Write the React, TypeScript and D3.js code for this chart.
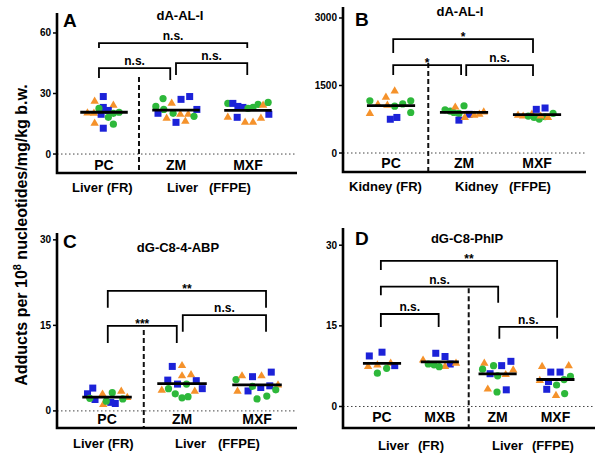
import React from "react";
import * as d3 from "d3";

// ---------- colours ----------
const BLUE = "#1c22d8";
const GREEN = "#2db83a";
const ORANGE = "#f5922b";

// point = [shape, jitter (category units), value]
type Pt = [string, number, number];
type Br = { x1: number; x2: number; y: number; l1: number; l2: number; label: string };

// ---------- Panel A: dA-AL-I, liver ----------
const titleA = "dA-AL-I";
const categoriesA = ["PC", "ZM", "MXF"];
const ticksA = [0, 30, 60];
const pointsA_PC: Pt[] = [
  ["tr", -0.13, 26.6], ["sq", -0.01, 28.5], ["tr", 0.13, 24.6], ["tr", -0.23, 20.8],
  ["tr", -0.14, 20.7], ["sq", -0.01, 23.1], ["ci", -0.07, 22.6], ["sq", -0.04, 19.7],
  ["sq", 0.06, 21.6], ["ci", 0.13, 20.2], ["ci", 0.21, 20.7], ["ci", 0.06, 18.2],
  ["tr", -0.13, 15.7], ["ci", 0.13, 14.8], ["sq", -0.01, 12.8],
];
const pointsA_ZM: Pt[] = [
  ["ci", -0.18, 27.5], ["sq", 0.07, 27.1], ["sq", 0.19, 28.5], ["tr", -0.06, 25.6],
  ["ci", -0.28, 23.6], ["ci", -0.17, 22.1], ["sq", 0.29, 22.1], ["sq", -0.25, 20.2],
  ["ci", -0.04, 20.2], ["tr", 0.06, 20.2], ["tr", 0.17, 20.2], ["tr", -0.13, 18.2],
  ["ci", 0.25, 18.7], ["tr", 0.13, 16.7], ["sq", 0.0, 15.7],
];
const pointsA_MXF: Pt[] = [
  ["ci", -0.28, 25.1], ["sq", -0.21, 25.1], ["sq", -0.14, 23.6], ["sq", -0.07, 23.1],
  ["ci", 0.0, 22.6], ["ci", 0.07, 23.1], ["ci", 0.14, 24.6], ["tr", 0.21, 24.6],
  ["ci", 0.28, 25.6], ["tr", -0.28, 18.7], ["sq", -0.15, 18.2], ["tr", -0.04, 16.2],
  ["tr", 0.07, 16.2], ["tr", 0.18, 18.2], ["sq", 0.29, 19.7],
];
const bracketsA: Br[] = [
  { x1: -0.07, x2: 1.99, y: 55.0, l1: 52.5, l2: 52.5, label: "n.s." },
  { x1: -0.07, x2: 0.92, y: 42.6, l1: 37.7, l2: 36.7, label: "n.s." },
  { x1: 1.0, x2: 1.99, y: 45.1, l1: 39.2, l2: 39.2, label: "n.s." },
];
const dashA = { x: 0.486, from: 38.2 };

// ---------- Panel B: dA-AL-I, kidney ----------
const titleB = "dA-AL-I";
const categoriesB = ["PC", "ZM", "MXF"];
const ticksB = [0, 1500, 3000];
const pointsB_PC: Pt[] = [
  ["tr", -0.29, 900], ["ci", -0.29, 1160], ["tr", -0.18, 1100], ["tr", -0.07, 1260],
  ["tr", 0.05, 1400], ["tr", -0.05, 1080], ["ci", 0.05, 1040], ["ci", 0.16, 1090],
  ["ci", 0.27, 1160], ["ci", 0.27, 900], ["sq", -0.01, 750], ["sq", 0.08, 790],
];
const pointsB_ZM: Pt[] = [
  ["ci", -0.26, 960], ["ci", -0.19, 930], ["ci", -0.14, 900], ["ci", -0.07, 880],
  ["tr", -0.12, 1040], ["ci", 0.0, 1050], ["sq", 0.07, 860], ["sq", -0.07, 730],
  ["tr", 0.01, 810], ["tr", 0.14, 860], ["tr", 0.21, 880], ["tr", 0.27, 930],
];
const pointsB_MXF: Pt[] = [
  ["tr", -0.26, 860], ["tr", -0.19, 840], ["tr", -0.07, 880], ["sq", -0.01, 970],
  ["sq", 0.11, 1000], ["ci", -0.12, 820], ["ci", -0.04, 790], ["ci", 0.03, 755],
  ["ci", 0.11, 805], ["tr", 0.05, 840], ["tr", 0.15, 810], ["ci", 0.22, 880],
];
const bracketsB: Br[] = [
  { x1: 0.03, x2: 1.945, y: 2531, l1: 2220, l2: 2220, label: "*" },
  { x1: 0.03, x2: 0.96, y: 1954, l1: 1732, l2: 1732, label: "*" },
  { x1: 1.03, x2: 1.945, y: 1954, l1: 1709, l2: 1709, label: "n.s." },
];
const dashB = { x: 0.51, from: 2000 };

// ---------- Panel C: dG-C8-4-ABP ----------
const titleC = "dG-C8-4-ABP";
const categoriesC = ["PC", "ZM", "MXF"];
const ticksC = [0, 15, 30];
const pointsC_PC: Pt[] = [
  ["sq", -0.19, 4.0], ["sq", -0.26, 3.0], ["tr", -0.06, 3.1], ["ci", 0.07, 3.2],
  ["tr", 0.19, 3.6], ["tr", 0.27, 2.5], ["ci", 0.21, 2.1], ["sq", -0.16, 2.0],
  ["ci", -0.23, 2.2], ["sq", 0.05, 1.5], ["sq", 0.11, 1.3], ["tr", -0.05, 1.3],
  ["ci", -0.01, 1.7],
];
const pointsC_ZM: Pt[] = [
  ["sq", -0.13, 7.8], ["tr", 0.0, 8.1], ["tr", 0.0, 6.3], ["tr", 0.12, 6.5],
  ["sq", -0.19, 5.4], ["sq", -0.06, 4.7], ["ci", 0.06, 4.7], ["sq", 0.19, 5.3],
  ["tr", -0.27, 3.8], ["ci", -0.18, 3.9], ["tr", 0.17, 3.6], ["sq", 0.27, 3.9],
  ["ci", -0.09, 3.0], ["ci", 0.0, 2.3], ["ci", 0.08, 2.5],
];
const pointsC_MXF: Pt[] = [
  ["ci", -0.28, 5.5], ["tr", -0.2, 6.3], ["sq", -0.06, 6.0], ["tr", 0.06, 6.3],
  ["sq", 0.19, 6.8], ["tr", -0.26, 3.6], ["sq", -0.12, 3.5], ["ci", -0.06, 4.3],
  ["sq", 0.05, 4.1], ["sq", 0.17, 4.4], ["tr", 0.28, 4.7], ["ci", 0.25, 3.7],
  ["ci", 0.0, 2.1], ["ci", 0.13, 2.6],
];
const bracketsC: Br[] = [
  { x1: 0.01, x2: 2.12, y: 21.05, l1: 18.1, l2: 18.1, label: "**" },
  { x1: 0.01, x2: 0.93, y: 14.9, l1: 11.9, l2: 11.9, label: "***" },
  { x1: 1.01, x2: 2.12, y: 16.8, l1: 13.9, l2: 13.9, label: "n.s." },
];
const dashC = { x: 0.49, from: 14.2 };

// ---------- Panel D: dG-C8-PhIP ----------
const titleD = "dG-C8-PhIP";
const categoriesD = ["PC", "MXB", "ZM", "MXF"];
const ticksD = [0, 15, 30];
const pointsD_PC: Pt[] = [
  ["sq", -0.22, 9.4], ["sq", 0.0, 10.1], ["tr", -0.24, 7.6], ["tr", -0.08, 7.9],
  ["tr", 0.15, 8.2], ["ci", 0.08, 7.1], ["ci", -0.08, 6.2], ["sq", 0.22, 7.6],
];
const pointsD_MXB: Pt[] = [
  ["sq", -0.07, 9.9], ["sq", 0.09, 9.3], ["sq", 0.18, 7.9], ["tr", -0.29, 8.8],
  ["tr", 0.28, 8.2], ["tr", 0.09, 7.6], ["ci", -0.2, 7.9], ["ci", -0.1, 7.75],
  ["ci", -0.01, 7.4],
];
const pointsD_ZM: Pt[] = [
  ["tr", -0.23, 8.2], ["ci", -0.07, 7.6], ["sq", 0.07, 7.6], ["sq", 0.23, 8.4],
  ["tr", 0.27, 6.95], ["ci", -0.26, 6.95], ["sq", -0.13, 6.1], ["ci", 0.0, 5.7],
  ["tr", 0.14, 6.1], ["tr", -0.17, 3.4], ["ci", -0.01, 2.7], ["sq", 0.15, 3.1],
];
const pointsD_MXF: Pt[] = [
  ["tr", -0.23, 7.6], ["tr", 0.23, 7.75], ["sq", -0.08, 6.4], ["sq", 0.08, 6.4],
  ["tr", -0.27, 5.0], ["sq", -0.12, 4.65], ["ci", 0.15, 5.0], ["ci", 0.26, 5.6],
  ["ci", 0.02, 4.0], ["sq", -0.15, 3.2], ["tr", 0.01, 2.2], ["ci", 0.16, 2.4],
];
const bracketsD: Br[] = [
  { x1: -0.02, x2: 3.03, y: 27.1, l1: 25.4, l2: 16.5, label: "**" },
  { x1: -0.02, x2: 2.01, y: 22.3, l1: 20.7, l2: 19.3, label: "n.s." },
  { x1: -0.02, x2: 0.98, y: 17.2, l1: 14.8, l2: 14.8, label: "n.s." },
  { x1: 2.03, x2: 3.03, y: 14.8, l1: 12.6, l2: 12.6, label: "n.s." },
];
const dashD = { x: 1.5, from: 22 };

const yAxisTitle = "Adducts per 10";
const yAxisSup = "8";
const yAxisRest = " nucleotides/mg/kg b.w.";

const FONT = "'Liberation Sans', Arial, Helvetica, sans-serif";
const shapeColor: Record<string, string> = { sq: BLUE, ci: GREEN, tr: ORANGE };

type GroupLabel = { text: string; x: number };

interface PanelCfg {
  letter: string;
  title: string;
  cats: string[];
  groups: Pt[][];
  ticks: number[];
  brackets: Br[];
  dash: { x: number; from: number };
  xRange: [number, number];
  xDomain: [number, number];
  yRange: [number, number];
  yDomain: [number, number];
  tickFmt?: (v: number) => string;
  letterPos: [number, number];
  titlePos: [number, number];
  catY: number;
  groupY: number;
  groupLabels: GroupLabel[];
}

function Mark({ shape, cx, cy }: { shape: string; cx: number; cy: number }) {
  const c = shapeColor[shape];
  if (shape === "sq") return <rect x={cx - 3.5} y={cy - 3.5} width={7} height={7} fill={c} />;
  if (shape === "ci") return <circle cx={cx} cy={cy} r={3.6} fill={c} />;
  const p = d3.path();
  p.moveTo(cx, cy - 3.8);
  p.lineTo(cx + 4.2, cy + 3.4);
  p.lineTo(cx - 4.2, cy + 3.4);
  p.closePath();
  return <path d={p.toString()} fill={c} />;
}

function Panel({ cfg }: { cfg: PanelCfg }) {
  const x = d3.scaleLinear().domain(cfg.xDomain).range(cfg.xRange);
  const y = d3.scaleLinear().domain(cfg.yDomain).range(cfg.yRange);
  const x0 = cfg.xRange[0];
  const x1 = cfg.xRange[1];
  const yb = cfg.yRange[0];
  const yt = cfg.yRange[1];
  return (
    <g fontFamily={FONT} fontWeight="bold">
      {/* zero line */}
      <line x1={x0} x2={x1} y1={y(0)} y2={y(0)} stroke="#444" strokeWidth={1} strokeDasharray="1.5,2.5" />
      {/* dashed separator */}
      <line x1={x(cfg.dash.x)} x2={x(cfg.dash.x)} y1={y(cfg.dash.from)} y2={yb} stroke="#111" strokeWidth={2} strokeDasharray="5,3" />
      {/* points */}
      {cfg.groups.map((g, gi) =>
        g.map((p, pi) => <Mark key={gi + "-" + pi} shape={p[0]} cx={x(gi + p[1])} cy={y(p[2])} />)
      )}
      {/* mean lines */}
      {cfg.groups.map((g, gi) => {
        const m = d3.mean(g, (d) => d[2]) as number;
        return <line key={"m" + gi} x1={x(gi - 0.33)} x2={x(gi + 0.33)} y1={y(m)} y2={y(m)} stroke="#000" strokeWidth={2.8} />;
      })}
      {/* axes */}
      <path d={`M${x0},${yt}V${yb}H${x1}`} fill="none" stroke="#000" strokeWidth={2.6} />
      {cfg.ticks.map((t) => (
        <g key={t}>
          <line x1={x0 - 4} x2={x0} y1={y(t)} y2={y(t)} stroke="#000" strokeWidth={1.5} />
          <text x={x0 - 6} y={y(t)} dy="0.35em" textAnchor="end" fontSize={10}>
            {cfg.tickFmt ? cfg.tickFmt(t) : String(t)}
          </text>
        </g>
      ))}
      {/* brackets */}
      {cfg.brackets.map((b, i) => {
        const bx1 = x(b.x1);
        const bx2 = x(b.x2);
        const by = y(b.y);
        const isStar = b.label.startsWith("*");
        return (
          <g key={"b" + i}>
            <path d={`M${bx1},${y(b.l1)}V${by}H${bx2}V${y(b.l2)}`} fill="none" stroke="#000" strokeWidth={1.8} />
            <text x={(bx1 + bx2) / 2} y={isStar ? by + 2 : by - 3} textAnchor="middle" fontSize={isStar ? 12 : 12}>
              {b.label}
            </text>
          </g>
        );
      })}
      {/* category labels */}
      {cfg.cats.map((c, i) => (
        <text key={c} x={x(i)} y={cfg.catY} textAnchor="middle" fontSize={14}>
          {c}
        </text>
      ))}
      {cfg.groupLabels.map((g, i) => (
        <text key={"g" + i} x={g.x} y={cfg.groupY} fontSize={13}>
          {g.text}
        </text>
      ))}
      <text x={cfg.letterPos[0]} y={cfg.letterPos[1]} fontSize={19}>
        {cfg.letter}
      </text>
      <text x={cfg.titlePos[0]} y={cfg.titlePos[1]} textAnchor="middle" fontSize={13}>
        {cfg.title}
      </text>
    </g>
  );
}

const panels: PanelCfg[] = [
  {
    letter: "A", title: titleA, cats: categoriesA, groups: [pointsA_PC, pointsA_ZM, pointsA_MXF],
    ticks: ticksA, brackets: bracketsA, dash: dashA,
    xRange: [57, 297], xDomain: [-0.653, 2.681], yRange: [173, 13], yDomain: [-9.4, 69.9],
    letterPos: [63, 27], titlePos: [180, 20], catY: 170, groupY: 192,
    groupLabels: [{ text: "Liver (FR)", x: 72 }, { text: "Liver", x: 167 }, { text: "(FFPE)", x: 209 }],
  },
  {
    letter: "B", title: titleB, cats: categoriesB, groups: [pointsB_PC, pointsB_ZM, pointsB_MXF],
    ticks: ticksB, brackets: bracketsB, dash: dashB,
    xRange: [343, 586], xDomain: [-0.658, 2.671], yRange: [172, 7], yDomain: [-422, 3244],
    letterPos: [355, 26], titlePos: [460, 16], catY: 168, groupY: 191,
    groupLabels: [{ text: "Kidney (FR)", x: 349 }, { text: "Kidney", x: 455 }, { text: "(FFPE)", x: 509 }],
  },
  {
    letter: "C", title: titleC, cats: categoriesC, groups: [pointsC_PC, pointsC_ZM, pointsC_MXF],
    ticks: ticksC, brackets: bracketsC, dash: dashC,
    xRange: [57, 297], xDomain: [-0.667, 2.533], yRange: [428, 233], yDomain: [-3.0, 31.2],
    letterPos: [63, 248], titlePos: [178, 252], catY: 424, groupY: 448,
    groupLabels: [{ text: "Liver (FR)", x: 73 }, { text: "Liver", x: 175 }, { text: "(FFPE)", x: 218 }],
  },
  {
    letter: "D", title: titleD, cats: categoriesD, groups: [pointsD_PC, pointsD_MXB, pointsD_ZM, pointsD_MXF],
    ticks: ticksD, brackets: bracketsD, dash: dashD,
    xRange: [343, 595], xDomain: [-0.675, 3.685], yRange: [428, 228], yDomain: [-4.0, 33.2],
    letterPos: [355, 245], titlePos: [467, 243], catY: 422, groupY: 450,
    groupLabels: [
      { text: "Liver", x: 378 }, { text: "(FR)", x: 418 },
      { text: "Liver", x: 492 }, { text: "(FFPE)", x: 532 },
    ],
  },
];

export default function App() {
  return (
    <svg
      width={605}
      height={461}
      viewBox="0 0 605 461"
      style={{ position: "fixed", left: 0, top: 0, background: "#fff" }}
    >
      <rect width={605} height={461} fill="#fff" />
      {panels.map((p) => (
        <Panel key={p.letter} cfg={p} />
      ))}
      <text
        transform="translate(26.5,235) rotate(-90)"
        textAnchor="middle"
        fontFamily={FONT}
        fontWeight="bold"
        fontSize={16}
      >
        {yAxisTitle}
        <tspan dy="-6" fontSize={11}>{yAxisSup}</tspan>
        <tspan dy="6">{yAxisRest}</tspan>
      </text>
    </svg>
  );
}
